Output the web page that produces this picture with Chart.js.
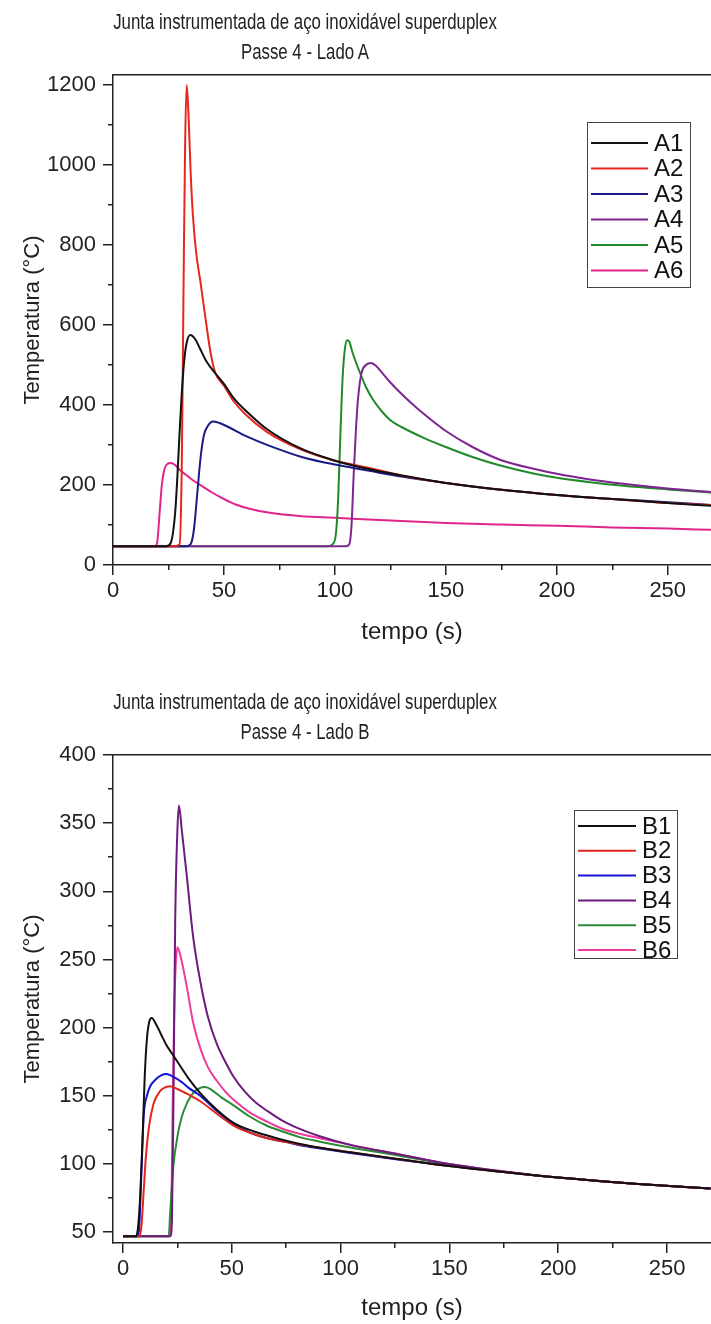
<!DOCTYPE html>
<html><head><meta charset="utf-8">
<script src="https://cdn.jsdelivr.net/npm/chart.js@4"></script>
<style>
html,body{margin:0;padding:0;background:#fff;width:711px;height:1324px;overflow:hidden;}
.wrap{position:absolute;left:0;width:711px;}
.title{position:absolute;left:0;width:610px;text-align:center;font-family:"Liberation Sans",Arial,sans-serif;font-size:22px;color:#222;line-height:30px;transform:scaleX(0.765);transform-origin:305px 0;white-space:nowrap;}
</style></head><body>
<div class="wrap" style="top:0;height:655px"><canvas id="cA" width="711" height="655"></canvas></div>
<div class="wrap" style="top:655px;height:669px"><canvas id="cB" width="711" height="669"></canvas></div>
<div class="title" style="top:7px">Junta instrumentada de aço inoxidável superduplex<br>Passe 4 - Lado A</div>
<div class="title" style="top:687px">Junta instrumentada de aço inoxidável superduplex<br>Passe 4 - Lado B</div>
<script>
// ---------- Lado A ----------
const labelsA = ['A1','A2','A3','A4','A5','A6'];
const colorsA = ['#111111','#e8261e','#1b1b86','#7d2590','#21892a','#e0248c'];
const tA1 = [0,24,26,28,29,30,31,32,33,34.8,37,39.3,42,46,50,54.3,60,69.3,84.3,99.3,115,130,150,175,200,225,250,270];
const vA1 = [47,47,55,130,220,330,430,505,550,575,565,540,510,480,453,418,385,340,292,262,240,224,205,188,175,165,155,148];
const tA2 = [0,28,30,31,31.8,32.5,33.2,34,35,36,37.5,39.3,42.3,44,46,50,54.3,60,69.3,84.3,99.3,115,130,150,175,200,225,250,270];
const vA2 = [47,47,52,250,700,1050,1200,1130,980,875,780,712,592,530,482,448,410,375,333,290,262,243,224,205,188,175,165,155,150];
const tA3 = [0,33,35,36.5,38,39.5,41,43,45,48,52,60,70,85,100,115,130,150,175,200,225,250,270];
const vA3 = [47,47,52,90,180,270,325,350,359,355,345,322,299,270,251,236,221,205,188,175,165,157,150];
const tA4 = [0,105,106.5,107.5,108.5,109.5,110.5,112,114,116.3,118.5,121,124.4,129.6,135,140,150,162,175,190,200,215,230,250,270];
const vA4 = [47,47,52,100,230,340,420,480,500,505,498,482,460,430,402,378,335,295,262,240,228,214,203,191,182];
const tA5 = [0,97,99,100.5,101.5,102.5,103.5,104.5,105.5,106.5,108,111,114,117,121,125,130,140,150,162,175,190,200,215,230,250,270];
const vA5 = [47,47,52,80,170,330,470,540,562,558,530,485,445,415,385,362,345,318,295,270,248,228,218,207,198,189,181];
const tA6 = [0,19,20,21,22,23,24,26,28,30,33,36,40,45,50,55,62,70,85,100,115,130,150,175,200,225,250,270];
const vA6 = [47,47,60,130,200,235,250,255,250,238,225,212,198,180,165,152,140,131,122,118,114,110,105,101,98,94,91,88];
const timesA = [tA1,tA2,tA3,tA4,tA5,tA6];
const valuesA = [vA1,vA2,vA3,vA4,vA5,vA6];
const xRangeA = [0, 269.5];
const yRangeA = [0, 1225];
const xTicksA = [0,50,100,150,200,250];
const xMinorA = [25,75,125,175,225];
const yTicksA = [0,200,400,600,800,1000,1200];
const yMinorA = [100,300,500,700,900,1100];

// ---------- Lado B ----------
const labelsB = ['B1','B2','B3','B4','B5','B6'];
const colorsB = ['#111111','#e0261e','#1414d2','#6c1c7c','#2a8c36','#ee3b9c'];
const tB1 = [0,6,7,8,9,10,11,12,13.2,15,17.5,20,22.5,25,30,35.5,43,51,60,66,75,82,90,104.5,127,150,175,200,235,270];
const vB1 = [47,47,55,80,120,165,192,204,207,203,195,187,181,175,163,152,140,130,124,121,117,114.5,112,108.5,103.5,98.5,94,90,85.5,82];
const tB2 = [0,7.5,8.5,9.5,10.5,12,14,16,18,21.6,25,30,35.5,43,51,60,66,75,82,90,104.5,127,150,175,200,235,270];
const vB2 = [47,47,55,80,105,128,144,151,155,157,155,151,146,137,128,122,119,116,114,112,108.5,103.5,98.5,94,90,85.5,82];
const tB3 = [0,6.5,7.5,8.5,9.5,11,12.5,15,17.5,20,23,27,30,35.5,43,51,60,66,75,82,90,104.5,127,150,175,200,235,270];
const vB3 = [47,47,55,95,135,150,157,162,165,166,164,160,156,150,139,129,122,119,116,113.5,111.5,108,103,98.5,94,90,85.5,82];
const tB4 = [0,21.8,22.5,23.2,24,25,25.7,27,29.2,32.2,35.5,39,43.1,47,50.8,56,61,66.2,73,81.5,90,104.5,127,150,175,200,235,270];
const vB4 = [47,47,60,150,280,345,363,345,313,267,234,208,188,175,164,153,145,139,132,125.5,120.5,114,107,100,94.5,90,85.5,82];
const tB5 = [0,21,21.6,22.3,23.1,25,26.9,29.5,32.2,35,37.8,41,45,50.8,58,66.2,73,81.5,90,104.5,127,150,175,200,235,270];
const vB5 = [47,47,62,80,98,120,134,145,152,155.5,156.5,154,149,143,135,128,124,119.5,116.5,112,106,99.5,94,90,85.5,82];
const tB6 = [0,21.5,22.2,22.8,23.5,24.2,25,26.5,29.2,32.2,35.5,39,43.1,47,50.8,58,66.2,73,81.5,90,104.5,127,150,175,200,235,270];
const vB6 = [47,47,60,140,210,245,259,252,231,204,185,171,161,153,147,138,131,126,122,119,114,107,100,94.5,90,85.5,82];
const timesB = [tB1,tB2,tB3,tB4,tB5,tB6];
const valuesB = [vB1,vB2,vB3,vB4,vB5,vB6];
const xRangeB = [-4.6, 270.2];
const yRangeB = [42, 400];
const xTicksB = [0,50,100,150,200,250];
const xMinorB = [25,75,125,175,225];
const yTicksB = [50,100,150,200,250,300,350,400];
const yMinorB = [75,125,175,225,275,325,375];

const FONT = '"Liberation Sans",Arial,sans-serif';
const INK = '#222';

const boxLegend = {
  id: 'boxLegend',
  afterDatasetsDraw(chart, args, o) {
    const {ctx, chartArea: ca} = chart;
    const ds = chart.data.datasets;
    ctx.save();
    const right = ca.right - o.right, top = ca.top + o.top, left = right - o.width;
    ctx.fillStyle = '#fff';
    ctx.fillRect(left, top, o.width, o.height);
    ctx.strokeStyle = '#444'; ctx.lineWidth = 1;
    ctx.strokeRect(Math.round(left) + 0.5, Math.round(top) + 0.5, o.width, o.height);
    ctx.font = o.fontSize + 'px ' + FONT;
    ctx.textBaseline = 'middle'; ctx.textAlign = 'left';
    ds.forEach((d, i) => {
      const y = top + o.first + o.rowH * i;
      ctx.strokeStyle = d.borderColor; ctx.lineWidth = 2;
      ctx.beginPath(); ctx.moveTo(left + o.lx0, y); ctx.lineTo(left + o.lx1, y); ctx.stroke();
      ctx.fillStyle = '#111';
      ctx.fillText(d.label, left + o.tx, y + 1);
    });
    ctx.restore();
  }
};

const setTicks = arr => s => { s.ticks = arr.map(v => ({value: v})); };

function build(canvasId, labels, colors, times, values, xr, yr, xt, xm, yt, ym, lay, leg) {
  const datasets = labels.map((lab, i) => ({
    label: lab,
    data: times[i].map((t, j) => ({x: t, y: values[i][j]})),
    borderColor: colors[i],
    backgroundColor: colors[i],
    borderWidth: 2,
    pointRadius: 0,
    showLine: true,
    fill: false,
    cubicInterpolationMode: 'monotone',
    xAxisID: 'x', yAxisID: 'y'
  }));
  const tickFont = {family: FONT, size: lay.tickSize};
  const fmt = v => String(v);
  return new Chart(document.getElementById(canvasId), {
    type: 'scatter',
    data: {datasets},
    plugins: [boxLegend],
    options: {
      responsive: false, animation: false, events: [],
      layout: {padding: {top: lay.padTop, left: 0, right: 0, bottom: 0}},
      plugins: {legend: {display: false}, tooltip: {enabled: false}, title: {display: false}, boxLegend: leg},
      scales: {
        x: {type: 'linear', position: 'bottom', weight: 1, min: xr[0], max: xr[1], afterBuildTicks: setTicks(xt),
          ticks: {autoSkip: false, maxRotation: 0, font: tickFont, color: INK, padding: lay.xTickPad, callback: fmt},
          grid: {drawOnChartArea: false, tickLength: 10, color: INK, lineWidth: 1.5},
          border: {display: true, color: INK, width: 1.5},
          title: {display: true, text: 'tempo (s)', font: {family: FONT, size: lay.xTitleSize}, color: INK, padding: {top: 0, bottom: lay.xTitlePad}},
          afterFit: s => { s.height = lay.xAxisH; }
        },
        xMinor: {type: 'linear', position: 'bottom', weight: 0, min: xr[0], max: xr[1], afterBuildTicks: setTicks(xm),
          ticks: {display: false, autoSkip: false},
          grid: {drawOnChartArea: false, tickLength: 5, color: INK, lineWidth: 1.5},
          border: {display: false},
          afterFit: s => { s.height = 0; }
        },
        xTop: {type: 'linear', position: 'top', min: xr[0], max: xr[1],
          ticks: {display: false},
          grid: {display: true, drawOnChartArea: false, drawTicks: false},
          border: {display: true, color: INK, width: 1.5},
          afterFit: s => { s.height = 0; }
        },
        y: {type: 'linear', position: 'left', weight: 1, min: yr[0], max: yr[1], afterBuildTicks: setTicks(yt),
          ticks: {autoSkip: false, font: tickFont, color: INK, padding: 7, callback: fmt},
          grid: {drawOnChartArea: false, tickLength: 10, color: INK, lineWidth: 1.5},
          border: {display: true, color: INK, width: 1.5},
          title: {display: true, text: 'Temperatura (°C)', font: {family: FONT, size: lay.yTitleSize}, color: INK, padding: {top: lay.yTitlePad, bottom: 0}},
          afterFit: s => { s.width = 113; }
        },
        yMinor: {type: 'linear', position: 'left', weight: 0, min: yr[0], max: yr[1], afterBuildTicks: setTicks(ym),
          ticks: {display: false, autoSkip: false},
          grid: {drawOnChartArea: false, tickLength: 5, color: INK, lineWidth: 1.5},
          border: {display: false},
          afterFit: s => { s.width = 0; }
        }
      }
    }
  });
}

build('cA', labelsA, colorsA, timesA, valuesA, xRangeA, yRangeA, xTicksA, xMinorA, yTicksA, yMinorA,
  {padTop: 75, xAxisH: 90, tickSize: 22, xTitleSize: 24, yTitleSize: 22, xTickPad: 3, xTitlePad: 8, yTitlePad: 20},
  {right: 21, top: 47, width: 103, height: 165, first: 21, rowH: 25.5, lx0: 4, lx1: 61, tx: 67, fontSize: 24});
build('cB', labelsB, colorsB, timesB, valuesB, xRangeB, yRangeB, xTicksB, xMinorB, yTicksB, yMinorB,
  {padTop: 100, xAxisH: 81, tickSize: 22, xTitleSize: 24, yTitleSize: 22, xTickPad: 3, xTitlePad: 1, yTitlePad: 20},
  {right: 34, top: 55, width: 103, height: 148, first: 16, rowH: 24.8, lx0: 4, lx1: 62, tx: 68, fontSize: 24});
</script>
</body></html>
